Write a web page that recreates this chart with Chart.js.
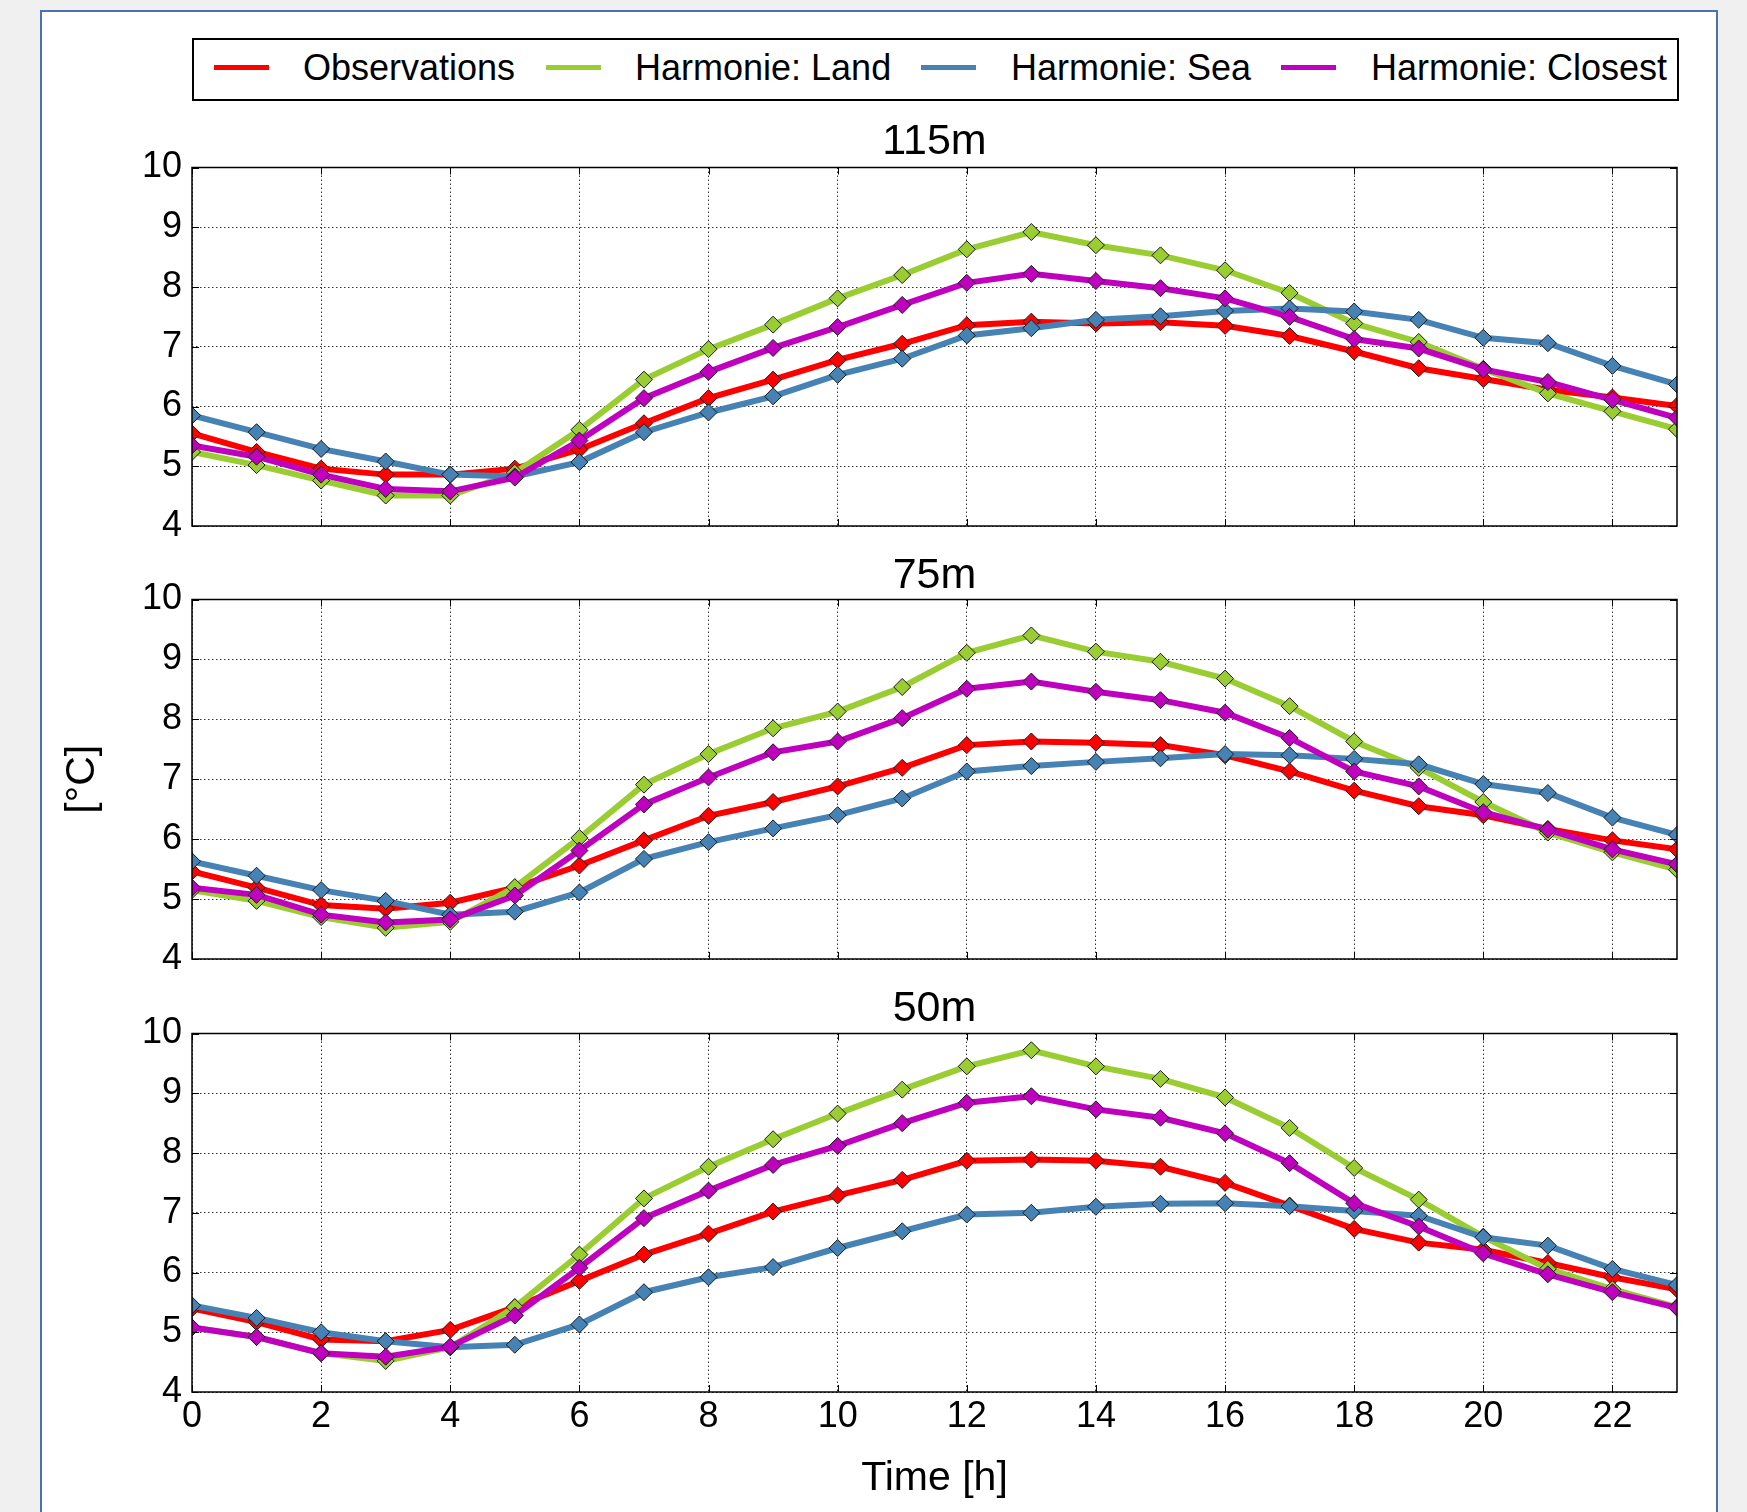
<!DOCTYPE html>
<html>
<head>
<meta charset="utf-8">
<script src="https://cdn.jsdelivr.net/npm/chart.js@4.4.1/dist/chart.umd.min.js"></script>
<style>
  html, body { margin: 0; padding: 0; }
  body { width: 1747px; height: 1512px; background: #f0f0f0; position: relative; overflow: hidden; }
  #sheet { position: absolute; left: 40px; top: 10px; width: 1674px; height: 1540px; background: #fff; border: 2px solid #4a72b0; }
  #legend { position: absolute; left: 192px; top: 38px; width: 1483px; height: 59px; border: 2px solid #000; background: #fff; }
  .swatch { position: absolute; height: 5px; width: 55px; top: 25px; }
  .label { position: absolute; top: 0; line-height: 56px; color: #000; white-space: nowrap; }
  canvas { position: absolute; left: 0; }
</style>
</head>
<body>
<div id="sheet"></div>
<div id="legend"></div>
<script>
// data
const hours = [0, 1, 2, 3, 4, 5, 6, 7, 8, 9, 10, 11, 12, 13, 14, 15, 16, 17, 18, 19, 20, 21, 22, 23];
const panelTitles = ['115m', '75m', '50m'];
const seriesNames = ['Observations', 'Harmonie: Land', 'Harmonie: Sea', 'Harmonie: Closest'];
const seriesColors = ['#ff0000', '#9acd32', '#4682b4', '#bf00bf'];

const obs115 = [5.55, 5.24, 4.96, 4.86, 4.86, 4.96, 5.28, 5.72, 6.14, 6.45, 6.78, 7.05, 7.36, 7.42, 7.39, 7.41, 7.35, 7.18, 6.92, 6.64, 6.46, 6.28, 6.15, 6.01];
const land115 = [5.24, 5.02, 4.76, 4.51, 4.51, 4.89, 5.61, 6.45, 6.96, 7.37, 7.81, 8.20, 8.63, 8.92, 8.70, 8.53, 8.28, 7.90, 7.39, 7.08, 6.63, 6.22, 5.92, 5.62];
const sea115 = [5.85, 5.57, 5.29, 5.08, 4.86, 4.83, 5.07, 5.57, 5.90, 6.17, 6.53, 6.80, 7.19, 7.31, 7.45, 7.51, 7.60, 7.64, 7.59, 7.45, 7.15, 7.06, 6.68, 6.37];
const closest115 = [5.35, 5.16, 4.86, 4.62, 4.58, 4.81, 5.43, 6.14, 6.58, 6.98, 7.33, 7.70, 8.07, 8.22, 8.10, 7.98, 7.81, 7.50, 7.13, 6.97, 6.62, 6.41, 6.11, 5.81];

const obs75 = [5.46, 5.19, 4.90, 4.84, 4.94, 5.19, 5.56, 5.98, 6.39, 6.62, 6.88, 7.19, 7.57, 7.63, 7.61, 7.57, 7.40, 7.13, 6.81, 6.55, 6.40, 6.17, 5.98, 5.83];
const land75 = [5.15, 4.97, 4.70, 4.52, 4.62, 5.20, 6.02, 6.91, 7.42, 7.85, 8.13, 8.54, 9.11, 9.40, 9.13, 8.96, 8.68, 8.22, 7.63, 7.19, 6.62, 6.11, 5.78, 5.49];
const sea75 = [5.63, 5.39, 5.15, 4.97, 4.74, 4.79, 5.11, 5.67, 5.95, 6.18, 6.40, 6.68, 7.13, 7.22, 7.29, 7.35, 7.42, 7.40, 7.34, 7.25, 6.92, 6.77, 6.36, 6.07];
const closest75 = [5.19, 5.07, 4.74, 4.61, 4.66, 5.06, 5.81, 6.58, 7.03, 7.45, 7.63, 8.02, 8.51, 8.63, 8.46, 8.32, 8.11, 7.69, 7.13, 6.88, 6.45, 6.16, 5.83, 5.58];

const obs50 = [5.40, 5.17, 4.88, 4.85, 5.04, 5.42, 5.86, 6.30, 6.65, 7.02, 7.29, 7.55, 7.87, 7.89, 7.87, 7.77, 7.50, 7.12, 6.73, 6.50, 6.38, 6.16, 5.92, 5.72];
const land50 = [5.08, 4.92, 4.65, 4.52, 4.75, 5.42, 6.30, 7.24, 7.77, 8.23, 8.66, 9.06, 9.45, 9.72, 9.45, 9.24, 8.93, 8.42, 7.75, 7.22, 6.60, 6.06, 5.72, 5.42];
const sea50 = [5.45, 5.24, 5.00, 4.85, 4.75, 4.79, 5.13, 5.67, 5.92, 6.09, 6.41, 6.69, 6.97, 7.00, 7.10, 7.15, 7.16, 7.11, 7.03, 6.95, 6.59, 6.45, 6.06, 5.79];
const closest50 = [5.08, 4.92, 4.65, 4.59, 4.76, 5.28, 6.08, 6.91, 7.37, 7.80, 8.12, 8.50, 8.84, 8.95, 8.73, 8.59, 8.33, 7.83, 7.16, 6.77, 6.32, 5.97, 5.67, 5.41];

const panelSeries = [
    [obs115, land115, sea115, closest115],
    [obs75, land75, sea75, closest75],
    [obs50, land50, sea50, closest50]
];

// layout of the three axes boxes (page pixels)
const plotLeft = 192, plotRight = 1677;
const plotTops = [167, 599, 1033];
const plotBottoms = [525, 958, 1391];
const titleCenters = [142, 576, 1009];

function hasFont(name) {
    const c = document.createElement('canvas').getContext('2d');
    c.font = '40px monospace';
    const a = c.measureText('Observations 115m').width;
    c.font = `40px "${name}", monospace`;
    const b = c.measureText('Observations 115m').width;
    return Math.abs(a - b) > 0.5;
}

const narrow = hasFont('Liberation Sans Narrow');
const family = narrow ? '"Liberation Sans Narrow", "Liberation Sans", Arial, sans-serif' : '"Liberation Sans", Arial, sans-serif';
const sz = narrow ? { tick: 42, title: 50, axis: 48, legend: 42 } : { tick: 36, title: 43, axis: 41, legend: 36 };

// legend
const legend = document.getElementById('legend');
const swatchX = [20, 352, 727, 1087];
const labelX = [109, 441, 817, 1177];
seriesNames.forEach((name, i) => {
    const sw = document.createElement('div');
    sw.className = 'swatch';
    sw.style.left = swatchX[i] + 'px';
    sw.style.background = seriesColors[i];
    legend.appendChild(sw);
    const lb = document.createElement('div');
    lb.className = 'label';
    lb.style.left = labelX[i] + 'px';
    lb.style.fontFamily = family;
    lb.style.fontSize = sz.legend + 'px';
    lb.textContent = name;
    legend.appendChild(lb);
});

// box around each axes + inward tick marks
const framePlugin = {
    id: 'frame',
    afterDatasetsDraw(chart) {
        const { ctx, chartArea: a, scales: { x, y } } = chart;
        ctx.save();
        ctx.strokeStyle = '#000';
        ctx.lineWidth = 1;
        ctx.beginPath();
        x.ticks.forEach(t => {
            const px = Math.round(x.getPixelForValue(t.value)) + 0.5;
            ctx.moveTo(px, a.bottom); ctx.lineTo(px, a.bottom - 7);
            ctx.moveTo(px, a.top); ctx.lineTo(px, a.top + 7);
        });
        y.ticks.forEach(t => {
            const py = Math.round(y.getPixelForValue(t.value)) + 0.5;
            ctx.moveTo(a.left, py); ctx.lineTo(a.left + 7, py);
            ctx.moveTo(a.right, py); ctx.lineTo(a.right - 7, py);
        });
        ctx.stroke();
        ctx.lineWidth = 1.5;
        ctx.strokeRect(a.left, a.top, a.right - a.left, a.bottom - a.top);
        ctx.restore();
    }
};

let charts = [];

function makePanel(i) {
    const isLast = i === 2;
    const isMid = i === 1;
    const top = titleCenters[i] - sz.title / 2;
    const bottom = isLast ? 1512 : plotBottoms[i] + 30;

    const canvas = document.createElement('canvas');
    canvas.width = 1747;
    canvas.height = Math.round(bottom - top);
    canvas.style.top = top + 'px';
    document.body.appendChild(canvas);

    const gridOpts = { color: 'rgba(0,0,0,0.8)', lineWidth: 1, drawTicks: false };
    const borderOpts = { display: false, dash: [1.5, 2.5] };

    const datasets = seriesNames.map((name, j) => ({
        label: name,
        data: hours.map((h, k) => ({ x: h, y: panelSeries[i][j][k] })),
        borderColor: seriesColors[j],
        backgroundColor: seriesColors[j],
        borderWidth: 6,
        tension: 0,
        pointStyle: 'rectRot',
        pointRadius: 8.5,
        pointBackgroundColor: seriesColors[j],
        pointBorderColor: '#1a1a1a',
        pointBorderWidth: 1,
        clip: 0,
        order: 4 - j
    }));

    return new Chart(canvas, {
        type: 'line',
        data: { datasets },
        options: {
            responsive: false,
            animation: false,
            events: [],
            layout: {
                autoPadding: false,
                padding: { left: 40, right: 1747 - plotRight, top: 0, bottom: 0 }
            },
            plugins: {
                legend: { display: false },
                tooltip: { enabled: false },
                title: {
                    display: true,
                    fullSize: false,
                    text: panelTitles[i],
                    color: '#000',
                    font: { family, size: sz.title, weight: 'normal', lineHeight: 1 },
                    padding: { top: 0, bottom: plotTops[i] - titleCenters[i] - sz.title / 2 }
                }
            },
            scales: {
                x: {
                    type: 'linear',
                    min: 0,
                    max: 23,
                    grid: gridOpts,
                    border: borderOpts,
                    ticks: {
                        display: isLast,
                        stepSize: 2,
                        includeBounds: false,
                        autoSkip: false,
                        maxRotation: 0,
                        padding: 7,
                        color: '#000',
                        font: { family, size: sz.tick, lineHeight: 1 }
                    },
                    title: {
                        display: isLast,
                        text: 'Time [h]',
                        color: '#000',
                        font: { family, size: sz.axis, lineHeight: 1 },
                        padding: { top: 0, bottom: 14 }
                    },
                    afterFit(s) { s.height = isLast ? 1512 - plotBottoms[i] : 30; }
                },
                y: {
                    min: 4,
                    max: 10,
                    grid: gridOpts,
                    border: borderOpts,
                    ticks: {
                        stepSize: 1,
                        padding: 10,
                        color: '#000',
                        font: { family, size: sz.tick, lineHeight: 1 }
                    },
                    title: {
                        display: isMid,
                        text: '[°C]',
                        color: '#000',
                        font: { family, size: sz.axis, lineHeight: 1 },
                        padding: { top: 22, bottom: 0 }
                    },
                    afterFit(s) { s.width = plotLeft - 40; }
                }
            }
        },
        plugins: [framePlugin]
    });
}

for (let i = 0; i < 3; i++) {
    charts.push(makePanel(i));
}
</script>
</body>
</html>
